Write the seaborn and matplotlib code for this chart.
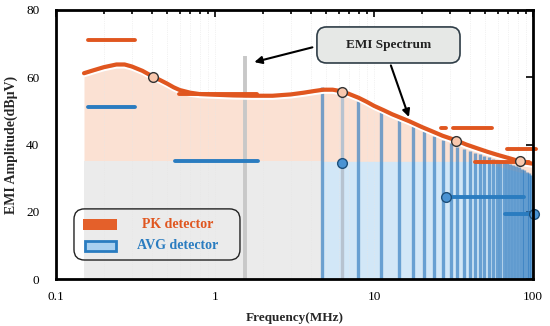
import matplotlib
matplotlib.use("Agg")
import matplotlib.pyplot as plt
import seaborn as sns
import pandas as pd
from matplotlib import transforms
from matplotlib.patches import FancyBboxPatch, Rectangle
from matplotlib.ticker import NullFormatter, LogLocator

# ---------------- data ----------------
env_freq = [0.15, 0.17, 0.20, 0.24, 0.27, 0.30, 0.35, 0.41, 0.45, 0.50, 0.55, 0.60, 0.70, 0.80, 1.0,
            1.3, 1.7, 2.3, 3.0, 3.6, 4.2, 4.8, 5.5, 6.3, 7.0, 8.0, 9.0, 10, 11.5, 13, 15, 16.7,
            20, 23, 27, 33, 38, 45, 52, 60, 70, 82.6, 90, 100]
env_level = [61.2, 62.0, 63.0, 63.8, 63.8, 63.2, 61.9, 60.1, 59.2, 58.1, 57.0, 56.2, 55.4, 55.0, 54.8,
             54.6, 54.5, 54.5, 54.9, 55.4, 55.9, 56.3, 56.3, 55.8, 55.0, 53.9, 52.7, 51.5, 50.2, 49.0, 47.8, 46.9,
             45.2, 44.0, 42.6, 41.2, 40.0, 38.8, 37.8, 36.9, 36.0, 35.0, 34.6, 34.3]

spec_freq = [4.7, 7.9, 11.1, 14.3, 17.5, 20.7, 23.9, 27.1, 30.3, 33.5, 36.7, 39.9, 43.1, 46.3, 49.5,
             52.7, 55.9, 59.1, 62.3, 65.5, 68.7, 71.9, 75.1, 78.3, 81.5, 84.7, 87.9, 91.1, 94.3, 97.5]
spec_level = [57.0, 52.8, 50.1, 47.6, 45.4, 43.9, 42.6, 41.4, 40.3, 39.4, 38.8, 38.2, 37.6, 37.1, 36.6,
              36.2, 35.8, 35.4, 35.1, 34.8, 34.5, 34.2, 33.9, 33.6, 33.2, 32.8, 32.3, 31.9, 31.4, 31.0]

avg_floor_freq = [4.7, 45, 100]
avg_floor_level = [35, 35, 30.8]
gray_floor_freq = [0.15, 4.7]
gray_floor_level = [35, 35]

pk_start = [0.158, 0.59, 26.2, 31.2, 43.4, 69.0]
pk_end = [0.312, 1.83, 28.5, 55.4, 94.4, 105.0]
pk_level = [71, 55, 44.9, 44.9, 34.8, 38.7]

avg_start = [0.158, 0.56, 28.2, 66.8]
avg_end = [0.312, 1.86, 88.0, 101.0]
avg_level = [51.2, 35, 24.3, 19.2]

pk_mark_freq = [0.41, 6.25, 33, 82.6]
pk_mark_level = [60.1, 55.6, 41.1, 35.0]
avg_mark_freq = [6.25, 28.2, 101.0]
avg_mark_level = [34.4, 24.3, 19.2]

marker_line_freq = [1.54]
marker_line_level = [66.2]
sub_line_freq = [6.25]
sub_line_level = [55.6]

x_ticks = [0.1, 1, 10, 100]
x_ticklabels = ["0.1", "1", "10", "100"]
y_ticks = [0, 20, 40, 60, 80]
legend_labels = ["PK detector", "AVG detector"]

ORANGE = "#e0561f"
BLUE = "#2a7cc0"

# ---------------- figure ----------------
sns.set_theme(style="white")
plt.rcParams["font.family"] = ["Liberation Serif", "DejaVu Serif"]

fig, ax = plt.subplots(figsize=(5.5, 3.26), dpi=100)
fig.subplots_adjust(left=56 / 550, right=533 / 550, bottom=1 - 279 / 326, top=1 - 10 / 326)
ax.set_xscale("log")
ax.set_xlim(0.1, 100)
ax.set_ylim(0, 80)

# background fills
ax.fill_between(env_freq, 0, env_level, color="#fbe1d3", lw=0, zorder=1)
ax.fill_between(gray_floor_freq, 0, gray_floor_level, color="#ebebeb", lw=0, zorder=1.1)
ax.fill_between(avg_floor_freq, 0, avg_floor_level, color="#d2e7f7", lw=0, zorder=1.1)

# faint grid
ax.grid(True, which="both", axis="x", ls=":", color="#e6e6e6", lw=0.5)
ax.set_axisbelow(False)

# spectrum lines
ax.vlines(spec_freq, 0, spec_level, color="#2f7bbf", lw=2.4, alpha=0.65, zorder=3)
ax.vlines(marker_line_freq, 0, marker_line_level, color="#c8c8c8", lw=2.8, zorder=3)
ax.vlines(sub_line_freq, 0, sub_line_level, color="#b7c3d0", lw=2.4, zorder=3)

# envelope: white underline + orange curve
env_df = pd.DataFrame({"f": env_freq, "v": env_level})
white_tr = transforms.offset_copy(ax.transData, fig=fig, x=0, y=-2.2, units="points")
ax.plot(env_freq, env_level, color="white", lw=1.6, transform=white_tr, zorder=4)
sns.lineplot(data=env_df, x="f", y="v", ax=ax, color=ORANGE, lw=3.0, zorder=5,
             sort=False, estimator=None)

# limit segments
for s, e, v in zip(pk_start, pk_end, pk_level):
    sns.lineplot(x=[s, e], y=[v, v], ax=ax, color=ORANGE, lw=2.8, zorder=6,
                 solid_capstyle="round", clip_on=False, estimator=None)
for s, e, v in zip(avg_start, avg_end, avg_level):
    sns.lineplot(x=[s, e], y=[v, v], ax=ax, color=BLUE, lw=2.8, zorder=6,
                 solid_capstyle="round", clip_on=False, estimator=None)

# markers
ax.plot(pk_mark_freq, pk_mark_level, "o", ms=7, mfc="#f8c8ae", mec="#333333", mew=1.0,
        zorder=7, clip_on=False)
ax.plot(avg_mark_freq, avg_mark_level, "o", ms=7, mfc="#4a93d3", mec="#1d4f7a", mew=1.0,
        zorder=7, clip_on=False)

# annotation box
asp = 477 / 269
box = FancyBboxPatch((0.547, 0.803), 0.30, 0.134, transform=ax.transAxes,
                     boxstyle="round,pad=0,rounding_size=0.02", mutation_aspect=asp,
                     fc="#e6e8e6", ec="#2f3d47", lw=1.2, zorder=8)
ax.add_patch(box)
ax.text(0.697, 0.870, "EMI Spectrum", transform=ax.transAxes, ha="center", va="center",
        fontsize=9.5, fontweight="bold", color="#222222", zorder=9)
ax.annotate("", xy=(1.70, 64.3), xytext=(4.26, 69.1),
            arrowprops=dict(arrowstyle="-|>", color="black", lw=1.5, mutation_scale=11), zorder=9)
ax.annotate("", xy=(16.8, 47.4), xytext=(12.6, 64.3),
            arrowprops=dict(arrowstyle="-|>", color="black", lw=1.5, mutation_scale=11), zorder=9)

# legend (drawn manually in axes coordinates)
lbox = FancyBboxPatch((0.0377, 0.0706), 0.348, 0.19, transform=ax.transAxes,
                      boxstyle="round,pad=0,rounding_size=0.022", mutation_aspect=asp,
                      fc="none", ec="#222222", lw=1.0, zorder=10)
ax.add_patch(lbox)
ax.add_patch(Rectangle((0.0566, 0.182), 0.0713, 0.041, transform=ax.transAxes,
                       fc="#e4602a", ec="none", zorder=10))
ax.add_patch(Rectangle((0.060, 0.104), 0.066, 0.037, transform=ax.transAxes,
                       fc="#a9d0f0", ec=BLUE, lw=2.0, zorder=10))
for lab, c, yy in zip(legend_labels, [ORANGE, BLUE], [0.2026, 0.1227]):
    ax.text(0.2558, yy, lab, transform=ax.transAxes, ha="center", va="center",
            fontsize=10, fontweight="bold", color=c, zorder=10)

# axes styling
ax.set_xticks(x_ticks)
ax.set_xticklabels(x_ticklabels)
ax.xaxis.set_minor_locator(LogLocator(base=10, subs=range(2, 10)))
ax.xaxis.set_minor_formatter(NullFormatter())
ax.set_yticks(y_ticks)
ax.tick_params(which="both", direction="in", top=True, right=True, colors="black",
               labelsize=9.5, width=1.2)
ax.tick_params(which="major", length=5)
ax.tick_params(which="minor", length=3)
ax.tick_params(axis="y", pad=12)
ax.tick_params(axis="x", pad=9)
for sp in ax.spines.values():
    sp.set_color("black")
    sp.set_linewidth(2.0)
    sp.set_zorder(11)

ax.set_xlabel("Frequency(MHz)", fontsize=9.5, fontweight="bold", labelpad=6)
ax.set_ylabel("EMI Amplitude(dBμV)", fontsize=10, fontweight="bold", labelpad=6)

fig.savefig("out.png", dpi=100, facecolor="white")
